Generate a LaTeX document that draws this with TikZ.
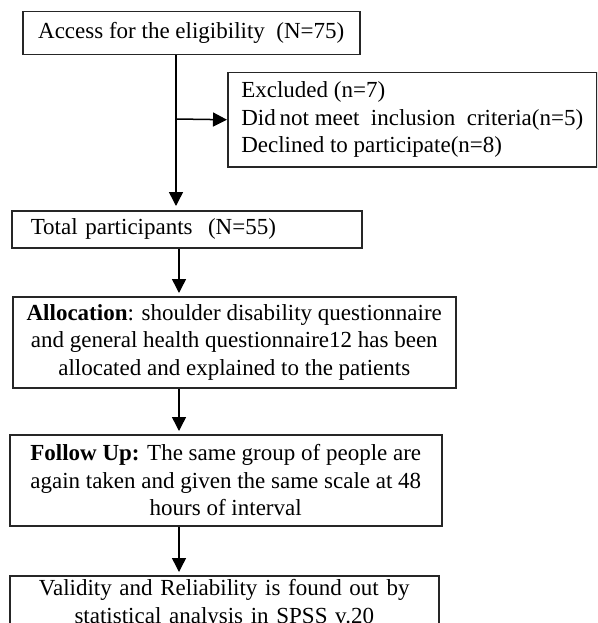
\documentclass[tikz,border=0pt]{standalone}
\usepackage{fontspec}
\setmainfont{Liberation Serif}
\usetikzlibrary{arrows.meta}
\tikzset{
  box/.style={draw=black!85, line width=1.5pt, inner sep=0pt, anchor=north west,
    font=\fontsize{23}{27.5}\selectfont},
  arr/.style={draw=black, line width=1.5pt, -{Triangle[length=14pt,width=14pt]}},
}
\begin{document}
\begin{tikzpicture}[x=1pt,y=-1pt]
\clip (0,0) rectangle (597,623);
\fill[white] (0,0) rectangle (597,623);
\node[box, minimum width=337pt, minimum height=43pt] (acc) at (22,11)
  {Access for the eligibility\ \ (N=75)};
\node[box, align=left, minimum width=369pt, minimum height=94pt] (excl) at (227,72)
  {Excluded (n=7)\\Did\,not meet\ \ inclusion\ \ criteria(n=5)\\Declined to participate(n=8)};
\node[box, text width=312pt, inner xsep=19pt, align=left, minimum height=37pt] (tot) at (11,210)
  {Total participants\ \ (N=55)};
\node[box, align=center, minimum width=443pt, minimum height=91pt] (alloc) at (12,296)
  {\textbf{Allocation}: shoulder disability questionnaire\\and general health questionnaire12\ has been\\allocated and explained to the patients};
\node[box, align=center, minimum width=432pt, minimum height=91pt] (fu) at (9,434)
  {\textbf{Follow Up:} The same group of people are\\again taken and given the same scale at 48\\hours of interval};
\node[box, text width=429pt, align=center, inner ysep=4pt] (val) at (9,575)
  {Validity and Reliability is found out by\\statistical analysis in SPSS v.20};
\coordinate (j) at (176,119);
\coordinate (c) at (179,0);
\draw[arr, shorten >=4pt] (acc.south -| j) -- (tot.north -| j);
\draw[arr] (j) -- (excl.west);
\draw[arr, shorten >=3pt] (tot.south -| c) -- (alloc.north -| c);
\draw[arr, shorten >=3pt] (alloc.south -| c) -- (fu.north -| c);
\draw[arr, shorten >=3pt] (fu.south -| c) -- (val.north -| c);
\end{tikzpicture}
\end{document}
